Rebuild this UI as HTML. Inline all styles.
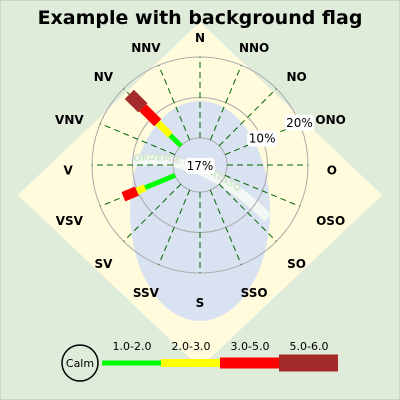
<!DOCTYPE html>
<html><head><meta charset="utf-8"><style>
html,body{margin:0;padding:0;background:#e0ecda;}
svg{display:block;font-family:"DejaVu Sans","Liberation Sans",sans-serif;}
</style></head><body>
<svg id="chart" width="400" height="400" viewBox="0 0 400 400">
<rect x="0" y="0" width="400" height="400" fill="#e0ecda" stroke="#bbb"/>
<g>
<polygon points="200,22 382,195 200,368 18,195" fill="#fffbdc"/>
<ellipse cx="200" cy="211" rx="70" ry="110" fill="#d9e2f0"/>
<path id="band" d="M131,162 Q200,150 268,218" fill="none" stroke="#f4f8f4" stroke-width="10"/>
<text font-size="9" font-weight="bold" fill="#cfe6cc"><textPath href="#band" startOffset="3">ORDEM  E  PROGRESSO</textPath></text>
</g>
<text x="200" y="24" text-anchor="middle" font-size="19" font-weight="bold" fill="#000">Example with background flag</text>
<g id="grid"></g>
<g id="bars"></g>
<g id="labels"></g>
<g id="legend"></g>
</svg>
<script>
const directions=["N","NNO","NO","ONO","O","OSO","SO","SSO","S","SSV","SV","VSV","V","VNV","NV","NNV"];
const nvValues=[3.7,4.4,5.2,4.7];
const vsvValues=[8,2.2,3.6];
const rangeLabels=["1.0-2.0","2.0-3.0","3.0-5.0","5.0-6.0"];
const rangeColors=["#00ff00","#ffff00","#ff0000","#a52a2a"];
const circleTicks=[10,20];
const calmLabel="17%";
const NS="http://www.w3.org/2000/svg";
const cx=200,cy=165,r0=27,rMax=108,maxPct=20;
const widths=[5,7,10,13];
function rad(p){return r0+(rMax-r0)*p/maxPct;}
function pt(ang,r){const a=(ang-90)*Math.PI/180;return [cx+r*Math.cos(a),cy+r*Math.sin(a)];}
function mk(tag,at,parent){const e=document.createElementNS(NS,tag);for(const k in at)e.setAttribute(k,at[k]);parent.appendChild(e);return e;}
const grid=document.getElementById('grid'),bars=document.getElementById('bars'),labels=document.getElementById('labels'),legend=document.getElementById('legend');
[r0].concat(circleTicks.map(rad)).forEach((r,i)=>{
  const c=mk('circle',{cx:cx,cy:cy,r:r,fill:'none',stroke:'#aaa','stroke-width':1},grid);
  
  
});
directions.forEach((d,i)=>{
  const ang=i*22.5;
  const [x1,y1]=pt(ang,r0),[x2,y2]=pt(ang,rMax);
  const l=mk('line',{x1:x1,y1:y1,x2:x2,y2:y2,stroke:'#006400','stroke-width':1,'stroke-dasharray':'6,4'},grid);
  
  
  let [lx,ly]=pt(ang,127);
  const a=ang*Math.PI/180;
  lx+=Math.sin(a)*d.length*4.8;
  ly+=(1-Math.cos(a))*5.5;
  const t=mk('text',{x:lx,y:ly+4,'text-anchor':'middle','font-size':12,'font-weight':'bold',fill:'#000'},labels);
  t.textContent=d;
  
  
});
function drawBar(dirName,vals){
  const ang=directions.indexOf(dirName)*22.5;let cum=0;
  vals.forEach((v,i)=>{
    const [x1,y1]=pt(ang,rad(cum));cum+=v;const [x2,y2]=pt(ang,rad(cum));
    const l=mk('line',{x1:x1,y1:y1,x2:x2,y2:y2,stroke:rangeColors[i],'stroke-width':widths[i]},bars);
    
    
  });
}
drawBar("NV",nvValues);
drawBar("VSV",vsvValues);
function box(x,y,txt,name){
  const g=mk('g',{},labels);
  
  
  mk('rect',{x:x-15,y:y-8,width:30,height:16,rx:4,fill:'#fff'},g);
  const t=mk('text',{x:x,y:y+4,'text-anchor':'middle','font-size':12,fill:'#000'},g);
  t.textContent=txt;
}
circleTicks.forEach(v=>{const [x,y]=pt(67,rad(v));box(x,y,v+'%','range-label-'+v);});
box(cx,cy+1,calmLabel,'calm-percentage');
const lg=mk('circle',{cx:80,cy:363,r:18,fill:'none',stroke:'#000','stroke-width':1.5},legend);


const ct=mk('text',{x:80,y:367,'text-anchor':'middle','font-size':11,fill:'#000'},legend);
ct.textContent='Calm';


const lw=[5,8,11,17];
rangeLabels.forEach((lab,i)=>{
  const x=102+i*59;
  const r=mk('rect',{x:x,y:363-lw[i]/2,width:59,height:lw[i],fill:rangeColors[i]},legend);
  
  
  const t=mk('text',{x:x+30,y:350,'text-anchor':'middle','font-size':11,fill:'#000'},legend);
  t.textContent=lab;
  
  
});
</script>
</body></html>
